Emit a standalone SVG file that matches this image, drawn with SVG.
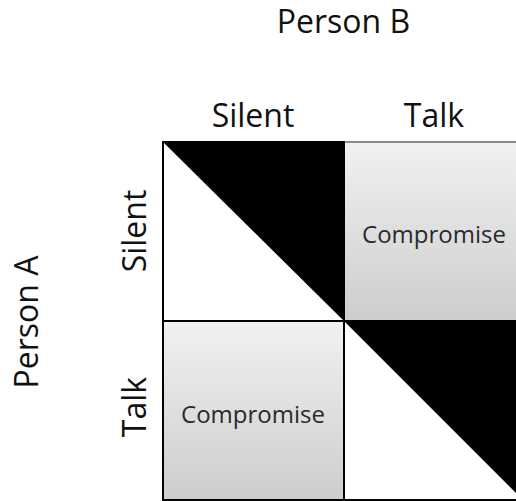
<svg xmlns="http://www.w3.org/2000/svg" width="516" height="501" viewBox="0 0 516 501">
  <style>
    .lbl { font-family: "Open Sans", "Noto Sans", "Liberation Sans", sans-serif; font-size: 32px; fill: #111; text-anchor: middle; }
    .cmp { font-family: "Open Sans", "Noto Sans", "Liberation Sans", sans-serif; font-size: 24px; fill: #2a2a2a; text-anchor: middle; }
    .cell { stroke: #000; stroke-width: 2; }
  </style>
  <defs>
    <linearGradient id="g" x1="0" y1="0" x2="0" y2="1">
      <stop offset="0" stop-color="#f1f1f1"/>
      <stop offset="1" stop-color="#cdcdcd"/>
    </linearGradient>
  </defs>
  <rect width="516" height="501" fill="#fff"/>
  <g id="title-b"><text class="lbl" x="343.5" y="33">Person B</text></g>
  <g id="col-silent"><text class="lbl" x="253" y="127">Silent</text></g>
  <g id="col-talk"><text class="lbl" x="434" y="127">Talk</text></g>
  <g id="title-a"><text class="lbl" transform="translate(38,322) rotate(-90)">Person A</text></g>
  <g id="row-silent"><text class="lbl" transform="translate(146,231) rotate(-90)">Silent</text></g>
  <g id="row-talk"><text class="lbl" transform="translate(146,407) rotate(-90)">Talk</text></g>
  <g id="cell-tr">
    <rect x="344" y="142" width="180" height="179" fill="url(#g)" stroke="#8a8a8a" stroke-width="2"/>
    <text class="cmp" x="434" y="243">Compromise</text>
  </g>
  <g id="cell-tl">
    <rect class="cell" x="163" y="142" width="181" height="179" fill="#fff"/>
    <polygon points="163,142 344,142 344,321" fill="#000"/>
  </g>
  <g id="cell-bl">
    <rect class="cell" x="163" y="321" width="181" height="179" fill="url(#g)"/>
    <text class="cmp" x="253" y="423">Compromise</text>
  </g>
  <g id="cell-br">
    <rect class="cell" x="344" y="321" width="180" height="179" fill="#fff"/>
    <polygon points="344,321 524,321 524,501" fill="#000"/>
  </g>
  <g id="connectors"></g>
</svg>
